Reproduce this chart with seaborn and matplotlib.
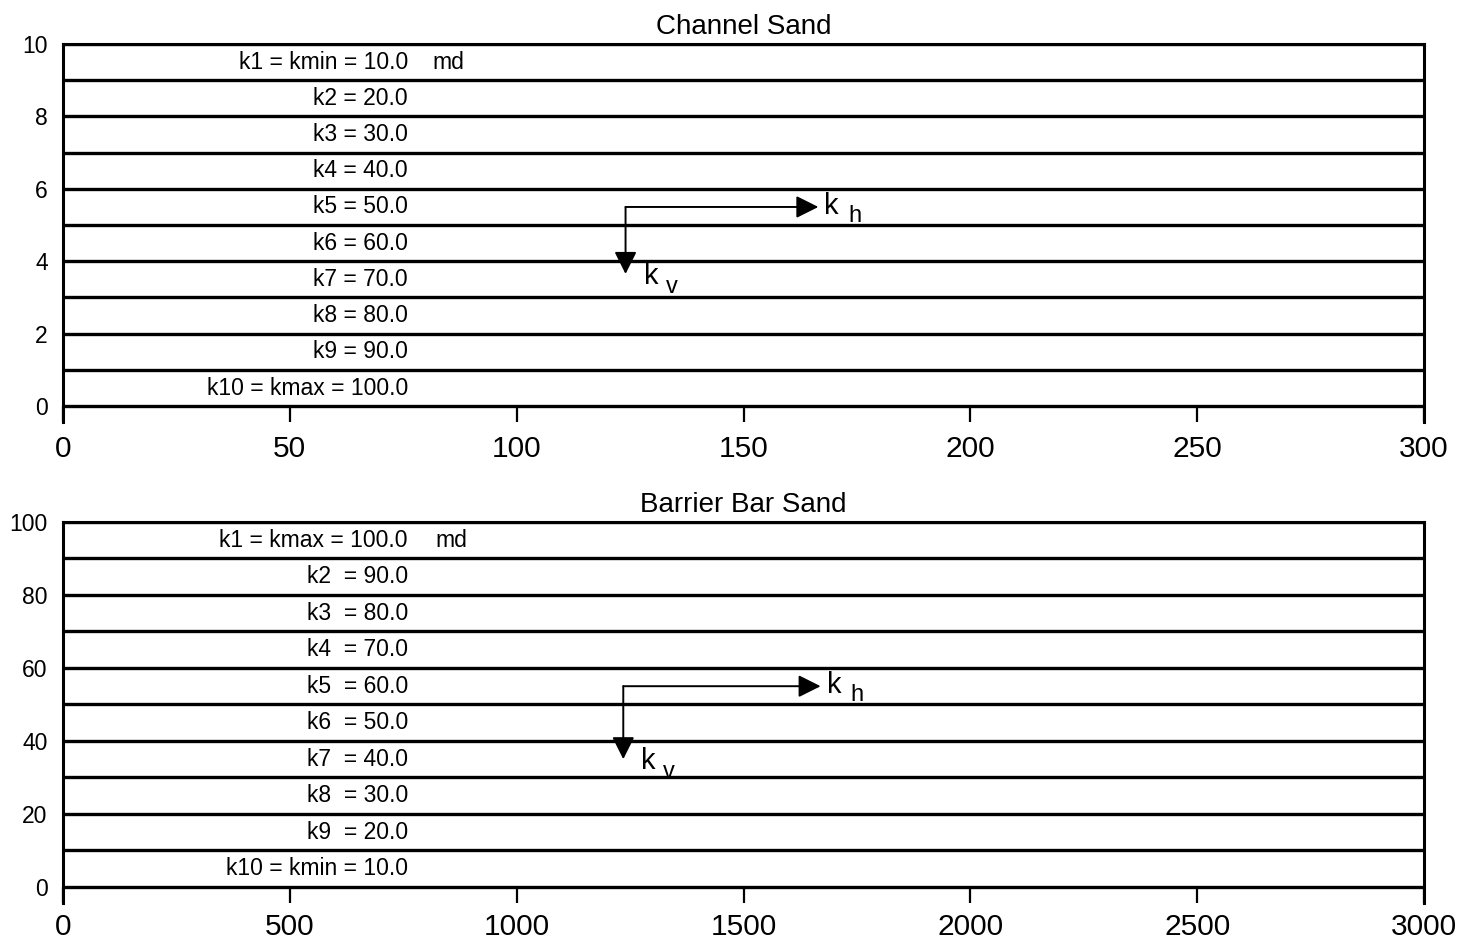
import matplotlib
matplotlib.use("Agg")
import matplotlib.pyplot as plt
import seaborn as sns
import numpy as np
import pandas as pd

# Layer permeabilities (md), listed top layer first
channel_perm = [10.0, 20.0, 30.0, 40.0, 50.0, 60.0, 70.0, 80.0, 90.0, 100.0]
barrier_perm = [100.0, 90.0, 80.0, 70.0, 60.0, 50.0, 40.0, 30.0, 20.0, 10.0]

channel_x_ticks = [0, 50, 100, 150, 200, 250, 300]
channel_y_ticks = [0, 2, 4, 6, 8, 10]
barrier_x_ticks = [0, 500, 1000, 1500, 2000, 2500, 3000]
barrier_y_ticks = [0, 20, 40, 60, 80, 100]


def layer_labels(perm, sep):
    labels = []
    for i, k in enumerate(perm):
        name = f"k{i + 1}"
        if k == min(perm):
            labels.append(f"{name} = kmin = {k:.1f}")
        elif k == max(perm):
            labels.append(f"{name} = kmax = {k:.1f}")
        else:
            labels.append(f"{name}{sep}= {k:.1f}")
    return labels


sns.set_theme(style="white")
plt.rcParams["font.family"] = ["Liberation Sans", "DejaVu Sans"]
plt.rcParams["text.color"] = "black"
plt.rcParams["axes.titlecolor"] = "black"
plt.rcParams["xtick.color"] = "black"
plt.rcParams["ytick.color"] = "black"

fig = plt.figure(figsize=(14.58, 9.41), dpi=100)
ax_top = fig.add_axes([0.0432, 0.5515, 0.9335, 0.4017])
ax_bot = fig.add_axes([0.0432, 0.0404, 0.9335, 0.4049])

LABEL_FS = 16.5


def draw_panel(ax, title, perm, xmax, ymax, xticks, yticks, sep,
               label_x, md_x, arrow_origin, kh_tip, kv_tip, xpad):
    n = len(perm)
    thick = ymax / n
    bounds = np.arange(n + 1) * thick
    df = pd.DataFrame({
        "x": np.tile([0.0, xmax], n + 1),
        "y": np.repeat(bounds, 2),
        "b": np.repeat(np.arange(n + 1), 2),
    })
    sns.lineplot(data=df, x="x", y="y", units="b", estimator=None,
                 color="black", lw=2.4, ax=ax, legend=False)

    labels = layer_labels(perm, sep)
    for i, lab in enumerate(labels):
        yc = ymax - (i + 0.5) * thick
        ax.text(label_x, yc, lab, ha="right", va="center", fontsize=LABEL_FS,
                color="black")
    ax.text(md_x, ymax - 0.5 * thick, "md", ha="left", va="center",
            fontsize=LABEL_FS, color="black")

    ox, oy = arrow_origin
    arrow_kw = dict(arrowstyle="-|>", color="black", lw=1.4,
                    mutation_scale=34, shrinkA=0, shrinkB=0)
    ax.annotate("", xy=(kh_tip, oy), xytext=(ox, oy), arrowprops=arrow_kw)
    ax.annotate("", xy=(ox, kv_tip), xytext=(ox, oy), arrowprops=arrow_kw)
    # k_h and k_v labels
    ax.annotate("k", xy=(kh_tip, oy), xytext=(6, 1), textcoords="offset pixels",
                ha="left", va="center", fontsize=21)
    ax.annotate("h", xy=(kh_tip, oy), xytext=(30, -9), textcoords="offset pixels",
                ha="left", va="center", fontsize=17)
    ax.annotate("k", xy=(ox, kv_tip), xytext=(18, -2), textcoords="offset pixels",
                ha="left", va="center", fontsize=21)
    ax.annotate("v", xy=(ox, kv_tip), xytext=(40, -13), textcoords="offset pixels",
                ha="left", va="center", fontsize=17)

    ax.set_xlim(0, xmax)
    ax.set_ylim(-0.044 * ymax, ymax)
    ax.set_xticks(xticks)
    ax.set_xticklabels([str(t) for t in xticks], fontsize=21.5)
    ax.set_yticks(yticks)
    ax.set_yticklabels([str(t) for t in yticks], fontsize=16.5)
    ax.set_xlabel("")
    ax.set_ylabel("")
    ax.set_title(title, fontsize=20, pad=7, color="black")

    ax.spines["bottom"].set_visible(False)
    for s in ("left", "right", "top"):
        ax.spines[s].set_visible(True)
        ax.spines[s].set_color("black")
        ax.spines[s].set_linewidth(2.2)
    ax.tick_params(axis="x", direction="in", length=11.5, width=1.6,
                   bottom=True, pad=xpad, colors="black")
    ax.tick_params(axis="y", length=0, pad=11, colors="black")
    ax.grid(False)


draw_panel(ax_top, "Channel Sand", channel_perm, 300, 10,
           channel_x_ticks, channel_y_ticks, " ",
           label_x=76, md_x=81.5, arrow_origin=(124, 5.5),
           kh_tip=166.5, kv_tip=3.65, xpad=9)
draw_panel(ax_bot, "Barrier Bar Sand", barrier_perm, 3000, 100,
           barrier_x_ticks, barrier_y_ticks, "  ",
           label_x=760, md_x=820, arrow_origin=(1235, 55),
           kh_tip=1670, kv_tip=35, xpad=7)

fig.savefig("out.png", dpi=100, facecolor="white")
